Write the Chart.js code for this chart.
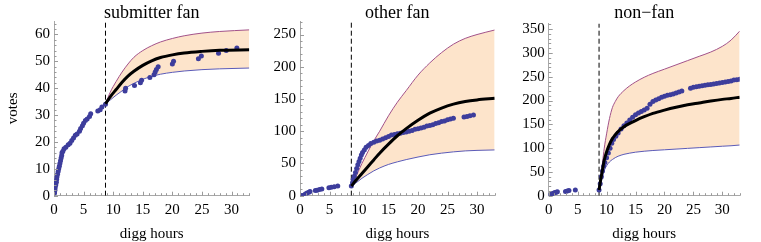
<!DOCTYPE html>
<html><head><meta charset="utf-8">
<script src="https://cdn.jsdelivr.net/npm/chart.js@4"></script>
<style>
body{margin:0;background:#fff;width:761px;height:242px;overflow:hidden;position:relative}
canvas{position:absolute;top:0}
</style></head><body>
<canvas id="c1" width="254" height="242" style="left:0px"></canvas>
<canvas id="c2" width="254" height="242" style="left:254px"></canvas>
<canvas id="c3" width="253" height="242" style="left:508px"></canvas>
<script>
// ---------- shared ----------
const panelTitles = ['submitter fan', 'other fan', 'non\u2212fan'];
const xAxisTitle = 'digg hours';
const yAxisTitle = 'votes';
const xTickLabels = [0, 5, 10, 15, 20, 25, 30];
const xMax = 33;
const promotionHour = 8.7;

// ---------- submitter fan ----------
const sfYTicks = [0, 10, 20, 30, 40, 50, 60];
const sfYMax = 65;
const sfObsX = [0.1,0.15,0.2,0.3,0.4,0.45,0.5,0.6,0.7,0.8,0.9,1.0,1.1,1.2,1.3,1.35,1.5,1.7,2.0,2.4,2.7,3.0,3.3,3.6,3.9,4.3,4.5,4.8,5.0,5.3,5.6,6.0,6.2,7.4,7.8,8.1,8.7,12.0,12.1,13.6,14.6,14.8,16.2,16.9,17.1,17.3,17.6,20.0,20.2,24.4,24.9,27.8,29.1,30.9];
const sfObsY = [1,2,3,4,5,6,7,8,9,10,11,12,13,14,15,16,16.5,17.5,18,19,19.5,20.5,21.5,22.5,23,24,25,26,27,28,28.5,29.5,30.5,31.5,32,33,34,39,40,41,42,43,44,45,46,47,48,49,50,51,52,53,54,55];
const sfCurveX = [8.7,9.5,10.5,11.5,12.5,13.5,15,16.5,18,20,22,25,28,33];
const sfUpper  = [34.2,38.5,42.5,46,49,51.5,54,55.8,57.2,58.5,59.5,60.5,61.1,61.7];
const sfMean   = [34.2,36.8,39.5,42.2,44.5,46.3,48.5,50.2,51.4,52.4,53.1,53.7,54.1,54.3];
const sfLower  = [34.2,35.6,37.4,39,40.6,41.8,43.3,44.4,45.2,45.9,46.4,46.9,47.2,47.5];

// ---------- other fan ----------
const ofYTicks = [0, 50, 100, 150, 200, 250];
const ofYMax = 271;
const ofObsX = [0.1,0.4,0.9,1.2,1.5,1.7,2.6,2.9,3.3,3.7,4.9,5.3,5.8,6.4,8.7,8.9,9.0,9.2,9.4,9.6,9.8,10.0,10.2,10.4,10.6,10.9,11.2,11.6,12.0,12.5,13.0,13.5,14.0,14.5,15.0,15.5,16.0,16.5,17.0,17.5,18.0,18.5,19.0,19.5,20.0,20.5,21.0,21.5,22.0,22.5,23.0,23.5,24.0,24.5,25.0,25.5,26.0,27.8,28.3,28.8,29.4];
const ofObsY = [0,0.5,2.5,4,5.5,6.5,8,8.5,9.5,10.5,12.5,13,14,15,15,20,25,30,36,42,48,53,58,63,67,71,75,78,81,83,85,86,88,90,92,94,95,96,97,98,99,100,101,103,104,105,106,108,109,110,112,113,115,116,118,119,120,122,123,124,125];
const ofCurveX = [8.7,9.5,10.5,11.5,12.5,13.5,15,16.5,18,20,22,24,26,28,30,33];
const ofUpper  = [15,30,50,68,85,100,124,145,163,187,206,222,235,244,250,257];
const ofMean   = [15,24,34.5,45,55.5,66,80,93,104,117,128,136,142,146,148.5,151];
const ofLower  = [15,20,27,33,38.5,43,48.5,52.5,56,60,63.5,66,68,69.5,70.3,71];

// ---------- non-fan ----------
const nfYTicks = [0, 50, 100, 150, 200, 250, 300, 350];
const nfYMax = 362;
const nfObsX = [0.1,0.3,0.5,0.7,0.9,1.1,1.3,1.5,2.9,3.2,3.5,4.6,8.7,8.9,9.1,9.3,9.5,9.7,10.0,10.3,10.6,10.9,11.2,11.6,12.0,12.5,13.0,13.5,14.0,14.5,15.0,15.5,16.0,16.5,17.0,17.5,18.0,18.5,19.0,19.5,20.0,20.5,21.0,21.5,22.0,22.5,23.0,24.5,25.0,25.5,26.0,26.5,27.0,27.5,28.0,28.5,29.0,29.5,30.0,30.5,31.0,31.5,32.0,32.5,33.0];
const nfObsY = [1,2,3.5,4.5,5.5,6.5,7.5,8.5,9,10,11,12,12,25,40,52,62,70,80,90,100,110,118,125,132,140,147,153,159,165,170,174,177,180,184,192,198,201,204,207,209,211,212,214,216,218,220,226,228,229,230,231,232,233,234,235,236,237,238,239,240,241,243,244,245];
const nfCurveX = [8.7,9.0,9.3,9.6,10,10.5,11,11.5,12,13,14,15,16.5,18,20,22,24,26,28,30,31.5,33];
const nfUpper  = [13,40,70,100,130,162,185,198,208,221,231,239,249,257,266,275,284,293,302,314,327,346];
const nfMean   = [12,35,55,75,92,108,120,128,135,145,152,158,166,173,180,186,191,195,199,202.5,204.5,207];
const nfLower  = [12,25,40,53,63,71,76,80,83,87,89.5,91.5,93.5,95,96.5,98,99.5,101,102.5,104,105,106.5];

// ---------- drawing ----------
const FONT = "'Liberation Serif', 'DejaVu Serif', serif";
Chart.defaults.font.family = FONT;
Chart.defaults.color = '#000';

const zip = (xs, ys) => xs.map((x, i) => ({x, y: ys[i]}));

const innerTicks = {
  id: 'innerTicks',
  afterDraw(chart, args, o) {
    const {ctx, chartArea: a, scales: {x, y}} = chart;
    ctx.save();
    ctx.strokeStyle = '#9a9a9a';
    ctx.lineWidth = 1;
    ctx.beginPath();
    for (let v = 0; v <= x.max + 1e-9; v += o.xMinor) {
      const px = Math.round(x.getPixelForValue(v)) + 0.5;
      const len = (Math.abs(v / o.xMajor - Math.round(v / o.xMajor)) < 1e-6) ? 4 : 2.5;
      ctx.moveTo(px, a.bottom); ctx.lineTo(px, a.bottom - len);
    }
    for (let v = 0; v <= y.max + 1e-9; v += o.yMinor) {
      const py = Math.round(y.getPixelForValue(v)) + 0.5;
      const len = (Math.abs(v / o.yMajor - Math.round(v / o.yMajor)) < 1e-6) ? 4 : 2.5;
      ctx.moveTo(a.left, py); ctx.lineTo(a.left + len, py);
    }
    ctx.stroke();
    ctx.restore();
  }
};

const panelTitle = {
  id: 'panelTitle',
  afterDraw(chart, args, o) {
    const {ctx, chartArea: a} = chart;
    ctx.save();
    ctx.font = '18px ' + FONT;
    ctx.fillStyle = '#000';
    ctx.textAlign = 'center';
    ctx.textBaseline = 'alphabetic';
    ctx.fillText(o.text, (a.left + a.right) / 2, o.baseline);
    ctx.restore();
  }
};

function makePanel(id, p) {
  const datasets = [
    {data: zip(p.cx, p.upper), borderColor: '#a2528a', borderWidth: 1, pointRadius: 0,
     backgroundColor: '#fde4cb', fill: 1, cubicInterpolationMode: 'monotone', order: 5},
    {data: zip(p.cx, p.lower), borderColor: '#5b5bb8', borderWidth: 1, pointRadius: 0,
     fill: false, cubicInterpolationMode: 'monotone', order: 4},
    {data: [{x: promotionHour, y: 0}, {x: promotionHour, y: p.ymax}], borderColor: '#000',
     borderWidth: 1, borderDash: [5, 3], pointRadius: 0, fill: false, order: 3},
    {data: zip(p.ox, p.oy), showLine: false, pointRadius: 2.5, pointBorderWidth: 0,
     pointBackgroundColor: '#3d3d9c', backgroundColor: '#3d3d9c', borderWidth: 0, order: 2},
    {data: zip(p.cx, p.mean), borderColor: '#000', borderWidth: 3, pointRadius: 0,
     fill: false, cubicInterpolationMode: 'monotone', order: 1}
  ];
  return new Chart(document.getElementById(id), {
    type: 'line',
    data: {datasets},
    plugins: [innerTicks, panelTitle],
    options: {
      responsive: false, animation: false, events: [],
      layout: {padding: {left: 0, right: p.padRight, top: p.padTop, bottom: 0}},
      plugins: {
        legend: {display: false}, tooltip: {enabled: false}, title: {display: false},
        innerTicks: {xMinor: 1, xMajor: 5, yMinor: p.yMinor, yMajor: p.yMajor},
        panelTitle: {text: p.title, baseline: 17.5}
      },
      scales: {
        x: {
          type: 'linear', min: 0, max: xMax,
          grid: {display: false, drawTicks: false},
          border: {display: true, color: '#a8a8a8', width: 1},
          ticks: {font: {size: 15}, padding: 5, maxRotation: 0, autoSkip: false},
          afterBuildTicks: s => { s.ticks = xTickLabels.map(v => ({value: v})); },
          afterFit: s => { s.height = 46.3; },
          title: {display: true, text: xAxisTitle, font: {size: 15, lineHeight: 1.1}, padding: {top: 0, bottom: 0}}
        },
        y: {
          type: 'linear', min: 0, max: p.ymax,
          grid: {display: false, drawTicks: false},
          border: {display: true, color: '#a8a8a8', width: 1},
          ticks: {font: {size: 15}, padding: 4, autoSkip: false},
          afterBuildTicks: s => { s.ticks = p.yticks.map(v => ({value: v})); },
          afterFit: s => { s.width = p.yWidth; },
          title: {display: p.yTitle, text: yAxisTitle, font: {size: 15}, padding: {top: 4, bottom: 0}}
        }
      }
    }
  });
}

makePanel('c1', {title: panelTitles[0], cx: sfCurveX, upper: sfUpper, mean: sfMean, lower: sfLower,
  ox: sfObsX, oy: sfObsY, ymax: sfYMax, yticks: sfYTicks, yMinor: 2, yMajor: 10,
  yWidth: 54, padRight: 4.7, padTop: 21, yTitle: true});
makePanel('c2', {title: panelTitles[1], cx: ofCurveX, upper: ofUpper, mean: ofMean, lower: ofLower,
  ox: ofObsX, oy: ofObsY, ymax: ofYMax, yticks: ofYTicks, yMinor: 10, yMajor: 50,
  yWidth: 46, padRight: 13.3, padTop: 21, yTitle: false});
makePanel('c3', {title: panelTitles[2], cx: nfCurveX, upper: nfUpper, mean: nfMean, lower: nfLower,
  ox: nfObsX, oy: nfObsY, ymax: nfYMax, yticks: nfYTicks, yMinor: 10, yMajor: 50,
  yWidth: 40.7, padRight: 21.3, padTop: 23.5, yTitle: false});
</script>
</body></html>
